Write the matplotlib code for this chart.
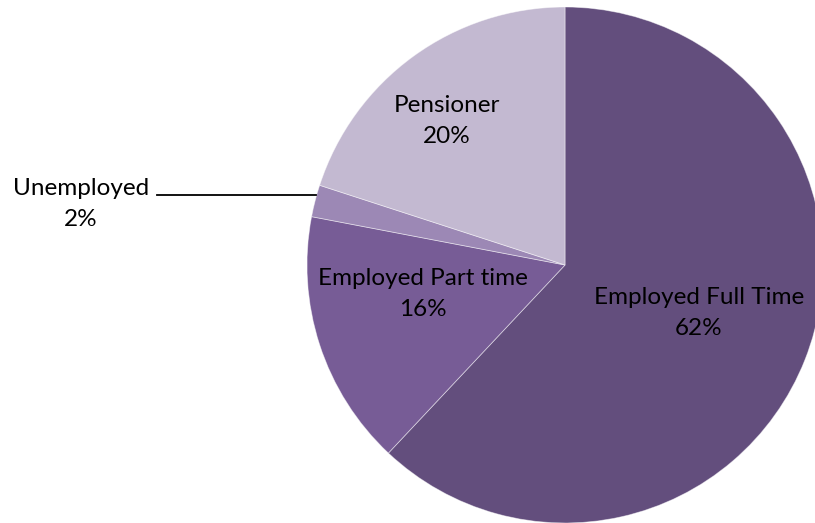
import matplotlib.pyplot as plt

# ---------- data ----------------
categories = ["Employed Full Time", "Employed Part time", "Unemployed", "Pensioner"]
shares = [62, 16, 2, 20]
colors = ["#634E7D", "#775C96", "#9C88B5", "#C3B9D1"]

# label centres in pixel space (x, y from top) of the 815x523 canvas
label_px = {
    "Employed Full Time": (699, 313),
    "Employed Part time": (423, 294),
    "Unemployed": (81, 204),
    "Pensioner": (447, 121),
}

W, H = 815, 523
cx, cy, r = 565, 265, 258


def px_to_data(x, y):
    return (x - cx) / r, (cy - y) / r


fig = plt.figure(figsize=(W / 100, H / 100), dpi=100)
ax = fig.add_axes([(cx - r) / W, (H - cy - r) / H, 2 * r / W, 2 * r / H])
ax.pie(shares, colors=colors, startangle=90, counterclock=False, radius=1,
       wedgeprops=dict(linewidth=0.6, edgecolor="#ffffff80"))
ax.set_xlim(-1, 1)
ax.set_ylim(-1, 1)
ax.set_aspect("equal")
ax.axis("off")

for name, val in zip(categories, shares):
    x, y = px_to_data(*label_px[name])
    ax.text(x, y, f"{name}\n{val}%", ha="center", va="center", fontsize=17.5,
            family="Lato", linespacing=1.62, clip_on=False)

# leader line for the small slice
x0, y0 = px_to_data(157, 195)
x1, y1 = px_to_data(316, 195)
ax.plot([x0, x1], [y0, y1], color="black", lw=1.3, clip_on=False)

fig.savefig("out.png", dpi=100)
